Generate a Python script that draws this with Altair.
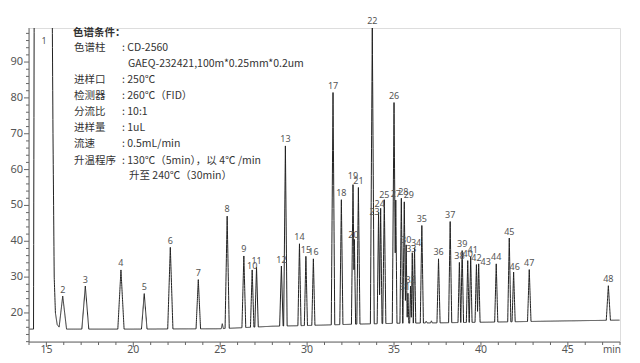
import altair as alt
import numpy as np
import pandas as pd

# ---------------- data ----------------
peak_no = [str(i) for i in range(2, 49)]
peak_time = [15.94, 17.24, 19.29, 20.63, 22.13, 23.74, 25.40, 26.36, 26.84, 27.09,
             28.52, 28.75, 29.56, 29.93, 30.36, 31.49, 31.97, 32.64, 32.72, 32.95,
             33.75, 34.11, 34.23, 34.44, 35.00, 35.10, 35.42, 35.59, 35.70, 35.80,
             35.95, 36.05, 36.18, 36.60, 37.56, 38.23, 38.76, 38.92, 39.24, 39.41,
             39.74, 39.87, 40.88, 41.63, 41.88, 42.78, 47.33]
peak_height = [24.7, 27.5, 32.0, 25.4, 38.3, 29.3, 47.0, 35.9, 32.0, 32.8,
               33.1, 66.6, 39.3, 35.8, 35.1, 81.5, 51.6, 55.8, 40.5, 55.0,
               99.6, 48.1, 49.2, 51.6, 78.7, 51.5, 52.0, 51.0, 39.0, 25.5,
               27.5, 36.8, 38.2, 44.4, 35.1, 45.5, 34.1, 37.4, 34.6, 35.7,
               33.5, 33.7, 33.7, 40.9, 31.4, 32.1, 27.6]
peak_halfwidth = [0.22, 0.20, 0.18, 0.16, 0.15, 0.13, 0.12, 0.11, 0.10, 0.10,
                  0.10, 0.10, 0.09, 0.09, 0.09, 0.10, 0.09, 0.09, 0.07, 0.09,
                  0.11, 0.08, 0.08, 0.09, 0.10, 0.07, 0.08, 0.08, 0.06, 0.05,
                  0.05, 0.06, 0.07, 0.09, 0.09, 0.09, 0.08, 0.08, 0.08, 0.08,
                  0.08, 0.08, 0.09, 0.09, 0.09, 0.10, 0.12]

# small unlabelled bumps
minor_time = [25.12, 36.85, 37.15]
minor_height = [17.0, 17.7, 17.8]
minor_halfwidth = [0.06, 0.05, 0.05]

# drifting baseline
base_time = [14.0, 20.0, 25.0, 28.0, 30.0, 33.0, 35.0, 40.0, 45.0, 48.0]
base_value = [15.5, 15.5, 15.6, 16.3, 16.5, 16.9, 17.1, 17.4, 17.8, 18.0]

# solvent peak 1 (off scale)
solvent_time = [14.02, 14.26, 14.30, 15.33, 15.38, 15.45, 15.52, 15.62, 15.72, 15.85]
solvent_value = [15.5, 15.5, 110.0, 110.0, 70.0, 30.0, 20.0, 16.8, 16.1, 15.6]

x_major = [15, 20, 25, 30, 35, 40, 45]
y_major = [20, 30, 40, 50, 60, 70, 80, 90]
x_minor = [v for v in range(14, 49) if v % 5 != 0]
y_minor = [v for v in range(12, 100, 2) if v % 10 != 0]

conditions = [
    ("色谱条件：", 73, 33, "bold"),
    ("色谱柱", 74, 48, "normal"),
    (": CD-2560", 122, 48, "normal"),
    ("GAEQ-232421,100m*0.25mm*0.2um", 128, 64, "normal"),
    ("进样口", 74, 80, "normal"),
    (": 250℃", 122, 80, "normal"),
    ("检测器", 74, 96, "normal"),
    (": 260℃（FID）", 122, 96, "normal"),
    ("分流比", 74, 112, "normal"),
    (": 10:1", 122, 112, "normal"),
    ("进样量", 74, 128, "normal"),
    (": 1uL", 122, 128, "normal"),
    ("流速", 74, 144, "normal"),
    (": 0.5mL/min", 122, 144, "normal"),
    ("升温程序", 74, 161, "normal"),
    (": 130℃（5min），以 4℃ /min", 122, 161, "normal"),
    ("升至 240℃（30min）", 129, 176, "normal"),
]

# ---------------- layout ----------------
W, H = 591, 314
X0, Y0 = 29, 28
XD = [14, 48]
YD = [11.9, 99.5]
px_per_min = W / (XD[1] - XD[0])
px_per_unit = H / (YD[1] - YD[0])

# per-label nudges in pixels (dx, dy)
label_nudge = {"8": (0, -1), "10": (0, 2.5), "19": (0, -2), "20": (-1, 2), "23": (-4, 6),
               "24": (-1, 2), "25": (0, 2), "28": (2, 0), "29": (4.5, 0), "30": (0, 1.5),
               "31": (-3, 0), "33": (-1, 2.5), "34": (1.5, 1.5), "41": (2, 0), "43": (7, 4.5),
               "46": (1, 1)}

# ---------------- trace ----------------
t = np.union1d(np.round(np.arange(14.02, 47.98, 0.005), 4), np.array(peak_time + minor_time))
base = np.interp(t, base_time, base_value)
sig = base.copy()
for tp, hp, wp in zip(peak_time + minor_time, peak_height + minor_height,
                      peak_halfwidth + minor_halfwidth):
    b = np.interp(tp, base_time, base_value)
    tri = (hp - b) * np.clip(1 - np.abs(t - tp) / wp, 0, None)
    sig = np.maximum(sig, base + tri)
mask = (t >= solvent_time[0]) & (t <= solvent_time[-1])
sig[mask] = np.maximum(sig[mask], np.interp(t[mask], solvent_time, solvent_value))
trace = pd.DataFrame({"t": t, "v": sig})

lab_t, lab_v = [], []
for n, tp, hp in zip(peak_no, peak_time, peak_height):
    dx, dy = label_nudge.get(n, (0, 0))
    lab_t.append(tp + dx / px_per_min)
    lab_v.append(hp + (6.5 - dy) / px_per_unit)
labels = pd.DataFrame({"t": lab_t, "v": lab_v, "n": peak_no})

GRAY = "#555555"
AX = "#666666"
xscale = alt.Scale(domain=XD, nice=False, zero=False)
yscale = alt.Scale(domain=YD, nice=False, zero=False)


def X(field):
    return alt.X(field, type="quantitative", scale=xscale, axis=None)


def Y(field):
    return alt.Y(field, type="quantitative", scale=yscale, axis=None)


line = alt.Chart(trace).mark_line(color="#222222", strokeWidth=1, clip=True).encode(
    x=X("t"), y=Y("v"))

# axis lines
x_dom = alt.Chart(pd.DataFrame({"a": [0]})).mark_rule(color=AX, strokeWidth=1).encode(
    x=alt.value(0), x2=alt.value(W), y=alt.value(H))
y_dom = alt.Chart(pd.DataFrame({"a": [0]})).mark_rule(color=AX, strokeWidth=1).encode(
    x=alt.value(0), y=alt.value(0), y2=alt.value(H))

# ticks
x_maj_t = alt.Chart(pd.DataFrame({"m": x_major})).mark_rule(color=AX).encode(
    x=X("m"), y=alt.value(H), y2=alt.value(H + 5))
x_min_t = alt.Chart(pd.DataFrame({"m": x_minor})).mark_rule(color=AX).encode(
    x=X("m"), y=alt.value(H), y2=alt.value(H + 3))
y_maj_t = alt.Chart(pd.DataFrame({"m": y_major})).mark_rule(color=AX).encode(
    y=Y("m"), x=alt.value(0), x2=alt.value(-5))
y_min_t = alt.Chart(pd.DataFrame({"m": y_minor})).mark_rule(color=AX).encode(
    y=Y("m"), x=alt.value(0), x2=alt.value(-3))

# tick labels
x_lab = alt.Chart(pd.DataFrame({"m": x_major})).mark_text(
    fontSize=10.5, color=GRAY, font="Noto Sans", align="center", baseline="middle").encode(
    x=X("m"), y=alt.value(H + 7.5), text=alt.Text("m:Q"))
y_lab = alt.Chart(pd.DataFrame({"m": y_major})).mark_text(
    fontSize=11, color=GRAY, font="Noto Sans", align="right", baseline="middle").encode(
    y=Y("m"), x=alt.value(-6), text=alt.Text("m:Q"))

peak_text = alt.Chart(labels).mark_text(fontSize=9, color=GRAY, font="Noto Sans",
                                         baseline="middle", align="center").encode(
    x=X("t"), y=Y("v"), text="n:N")

one = alt.Chart(pd.DataFrame({"n": ["1"]})).mark_text(
    fontSize=9, color=GRAY, font="Noto Sans", baseline="middle", align="center").encode(
    x=alt.value(44 - X0), y=alt.value(41 - Y0), text="n:N")

unit = alt.Chart(pd.DataFrame({"n": ["min"]})).mark_text(
    fontSize=10, color=GRAY, font="Noto Sans", baseline="middle", align="center").encode(
    x=alt.value(612 - X0), y=alt.value(H + 7.5), text="n:N")

layers = [line, x_dom, y_dom, x_maj_t, x_min_t, y_maj_t, y_min_t, x_lab, y_lab,
          peak_text, one, unit]
for txt, px, py, wt in conditions:
    layers.append(alt.Chart(pd.DataFrame({"s": [txt]})).mark_text(
        fontSize=10.5, color="#333333", font="Noto Sans CJK SC", fontWeight=wt,
        align="left", baseline="middle").encode(
        x=alt.value(px - X0), y=alt.value(py - Y0), text="s:N"))

chart = alt.layer(*layers).properties(
    width=W, height=H,
    padding={"left": X0 - 8, "top": Y0 - 8, "right": 12, "bottom": 13},
    autosize=alt.AutoSizeParams(type="none"),
).configure_view(stroke=None).configure(background="white")

chart.save("out.html", embed_options={"renderer": "svg", "actions": False})
